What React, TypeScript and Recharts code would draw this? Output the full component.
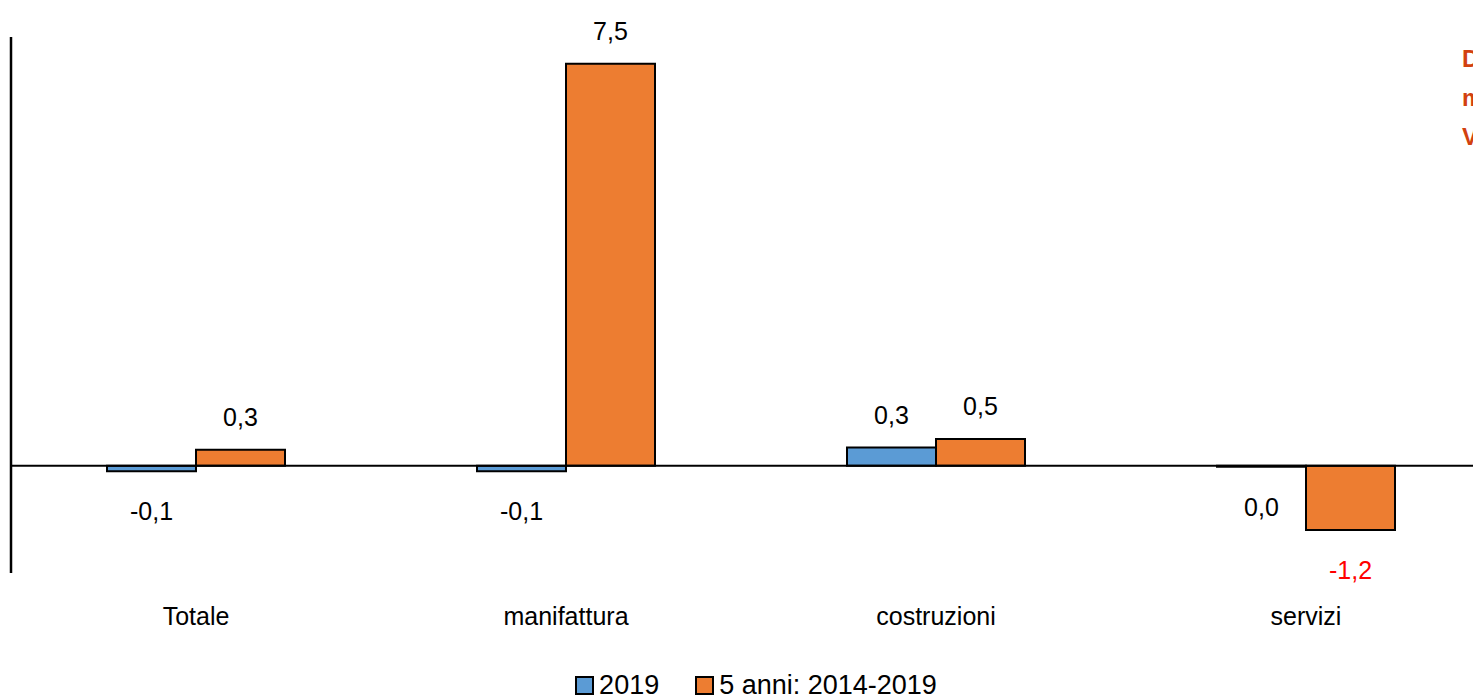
import { BarChart, Bar, XAxis, YAxis, ReferenceLine, Customized } from 'recharts'

const categories = ['Totale', 'manifattura', 'costruzioni', 'servizi']
const values2019 = [-0.1, -0.1, 0.34, -0.02]
const values5anni = [0.3, 7.5, 0.5, -1.2]
const seriesNames = ['2019', '5 anni: 2014-2019']
const colors = ['#5B9BD5', '#ED7D31']
const sideNotes = ['D', 'm', 'V']

const data = categories.map((name, i) => ({
  name,
  a: values2019[i],
  b: values5anni[i],
}))

const FONT = '"Liberation Sans Narrow", "Liberation Sans", Arial, sans-serif'

const fmt = (v: number) => (Math.round(v * 10) / 10).toFixed(1).replace('.', ',')

function ValueLabel(props: any) {
  const { x, y, width, height, value } = props
  const top = Math.min(y, y + height)
  const bottom = Math.max(y, y + height)
  const cx = x + width / 2
  const ty = value < 0 ? bottom + 40 : top - 33
  return (
    <text
      x={cx}
      y={ty}
      textAnchor="middle"
      dominantBaseline="central"
      fontFamily={FONT}
      fontSize={25}
      fill={value <= -1 ? '#FF0000' : '#000'}
    >
      {fmt(value)}
    </text>
  )
}

// legend drawn as plain html so it does not eat into the plot area
function ChartLegend() {
  return (
    <div style={{
      position: 'absolute', left: 16, width: 1480, top: 670, height: 30,
      display: 'flex', justifyContent: 'center', gap: 36,
      fontFamily: FONT, fontSize: 27, color: '#000', lineHeight: '30px',
    }}>
      {seriesNames.map((n, i) => (
        <div key={n} style={{ display: 'flex', alignItems: 'center', gap: 5 }}>
          <span style={{ width: 15, height: 15, background: colors[i], border: '2px solid #000', display: 'inline-block' }} />
          <span>{n}</span>
        </div>
      ))}
    </div>
  )
}

function SideNotes() {
  return (
    <g>
      {sideNotes.map((t, i) => (
        <text key={t} x={1462} y={58 + i * 39} dominantBaseline="central" fontFamily={FONT} fontWeight="bold" fontSize={24} fill="#D2410F">
          {t}
        </text>
      ))}
    </g>
  )
}

export default function App() {
  return (
    <div style={{ position: 'fixed', left: 0, top: 0, width: 1473, height: 698, overflow: 'hidden', background: '#fff' }}>
      <BarChart
        width={1491}
        height={698}
        data={data}
        margin={{ top: 37, right: 0, bottom: 0, left: 9 }}
        barGap={0}
        barSize={89}
      >
        <XAxis
          dataKey="name"
          axisLine={false}
          tickLine={false}
          height={125}
          tickMargin={28}
          tick={{ fontFamily: FONT, fontSize: 25, fill: '#000' }}
        />
        <YAxis
          domain={[-2, 8]}
          width={2}
          tick={false}
          tickLine={false}
          axisLine={{ stroke: '#000', strokeWidth: 2.5 }}
        />
        <ReferenceLine y={0} stroke="#000" strokeWidth={2} />
        <Bar dataKey="a" name={seriesNames[0]} fill={colors[0]} stroke="#000" strokeWidth={2} isAnimationActive={false} label={<ValueLabel />} />
        <Bar dataKey="b" name={seriesNames[1]} fill={colors[1]} stroke="#000" strokeWidth={2} isAnimationActive={false} label={<ValueLabel />} />
        <Customized component={<SideNotes />} />
      </BarChart>
      <ChartLegend />
    </div>
  )
}
